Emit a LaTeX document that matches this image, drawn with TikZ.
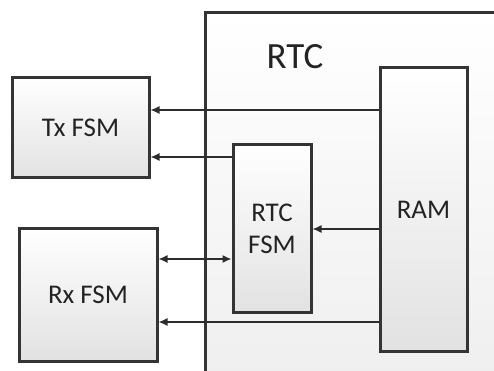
\documentclass[tikz,border=0pt]{standalone}
\usepackage{fontspec}
\setmainfont{Carlito}
\usetikzlibrary{arrows.meta,shadows}
\definecolor{boxedge}{RGB}{52,52,52}
\definecolor{boxlow}{RGB}{226,226,226}
\definecolor{outerlow}{RGB}{238,238,238}
\definecolor{linkgray}{RGB}{45,45,45}
\definecolor{labelgray}{RGB}{35,35,35}
\tikzset{
  block/.style={draw=boxedge,line width=3pt,top color=white,bottom color=boxlow,
    drop shadow={opacity=0.22,shadow xshift=1.5pt,shadow yshift=-1.5pt},
    font=\fontsize{27}{32}\selectfont,text=labelgray,align=center,inner sep=0pt},
  link/.style={linkgray,line width=1.3pt,-{Latex[length=9pt,width=8pt]}},
  twolink/.style={link,{Latex[length=9pt,width=8pt]}-{Latex[length=9pt,width=8pt]}}
}

\begin{document}
\begin{tikzpicture}[x=1pt,y=-1pt]
  \clip (0,0) rectangle (494,371);
  % the RTC block runs off the right and bottom edges
  \draw[draw=boxedge,line width=3pt,top color=white,bottom color=outerlow]
    (205,13) rectangle (520,400);
  \node[font=\fontsize{37}{44}\selectfont,text=labelgray] (rtclabel) at (295,57) {RTC};
  \node[block,minimum width=137pt,minimum height=100pt] (tx) at (80.5,128) {Tx FSM};
  \node[block,minimum width=138pt,minimum height=133pt] (rx) at (88,294.5) {Rx FSM};
  \node[block,minimum width=78pt,minimum height=167pt] (fsm) at (272,228.5) {RTC\\FSM};
  \node[block,minimum width=87pt,minimum height=283pt] (ram) at (423.5,209.5) {RAM};
  \draw[link] (ram.west |- 0,110) -- (tx.east |- 0,110);
  \draw[link] (fsm.west |- 0,157) -- (tx.east |- 0,157);
  \draw[link] (ram.west |- 0,229) -- (fsm.east |- 0,229);
  \draw[twolink] (rx.east |- 0,259) -- (fsm.west |- 0,259);
  \draw[link] (ram.west |- 0,322) -- (rx.east |- 0,322);
\end{tikzpicture}
\end{document}
